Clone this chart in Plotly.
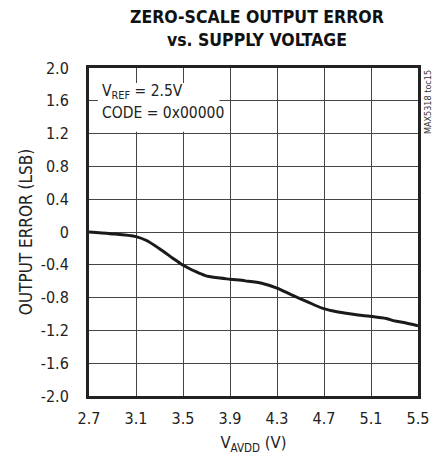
"""Zero-scale output error vs. supply voltage (MAX5318 toc15)"""

import plotly.graph_objects as go

# supply voltage (V) and zero-scale output error (LSB)
supply_v = [2.70, 2.88, 3.10, 3.19, 3.30, 3.41, 3.49, 3.61, 3.69, 3.78, 3.90,
            4.03, 4.17, 4.30, 4.42, 4.56, 4.69, 4.82, 4.99, 5.09, 5.23, 5.30,
            5.38, 5.50]
error_lsb = [0.00, -0.02, -0.056, -0.104, -0.204, -0.316, -0.396, -0.484,
             -0.532, -0.556, -0.576, -0.596, -0.624, -0.684, -0.764, -0.852,
             -0.932, -0.976, -1.012, -1.028, -1.056, -1.084, -1.104, -1.144]

x_ticks = [2.7, 3.1, 3.5, 3.9, 4.3, 4.7, 5.1, 5.5]
x_tick_text = ["2.7", "3.1", "3.5", "3.9", "4.3", "4.7", "5.1", "5.5"]
y_ticks = [2.0, 1.6, 1.2, 0.8, 0.4, 0, -0.4, -0.8, -1.2, -1.6, -2.0]
y_tick_text = ["2.0", "1.6", "1.2", "0.8", "0.4", "0", "-0.4", "-0.8",
               "-1.2", "-1.6", "-2.0"]

FONT = "DejaVu Sans Condensed, Liberation Sans Narrow, Liberation Sans, sans-serif"

# the page body keeps its default 8px margin, so the figure is 8px smaller
W, H = 433, 454

fig = go.Figure()
fig.add_trace(
    go.Scatter(
        x=supply_v,
        y=error_lsb,
        mode="lines",
        line={"color": "#1a1a1a", "width": 3, "shape": "spline", "smoothing": 0.8},
        showlegend=False,
        hoverinfo="skip",
    )
)

# white box behind the conditions text
fig.add_shape(
    type="rect",
    xref="x",
    yref="y",
    x0=2.776,
    x1=3.81,
    y0=1.224,
    y1=1.818,
    fillcolor="white",
    line={"width": 0},
    layer="between",
)

fig.add_annotation(
    x=2.79,
    y=1.71,
    xref="x",
    yref="y",
    xanchor="left",
    yanchor="middle",
    showarrow=False,
    text="V<sub>REF</sub> = 2.5V",
    font={"family": FONT, "size": 15.5, "color": "#222"},
)
fig.add_annotation(
    x=2.79,
    y=1.45,
    xref="x",
    yref="y",
    xanchor="left",
    yanchor="middle",
    showarrow=False,
    text="CODE = 0x00000",
    font={"family": FONT, "size": 15.5, "color": "#222"},
)

# part / figure id on the right edge
fig.add_annotation(
    x=1.0,
    y=1.0,
    xref="paper",
    yref="paper",
    xanchor="left",
    yanchor="top",
    xshift=3,
    showarrow=False,
    textangle=-90,
    text="MAX5318 toc15",
    font={"family": FONT, "size": 9, "color": "#333"},
)

fig.update_layout(
    width=W,
    height=H,
    margin={"l": 81, "r": 14, "t": 60, "b": 56},
    paper_bgcolor="white",
    plot_bgcolor="white",
    font={"family": FONT, "size": 16, "color": "#222"},
    title={
        "text": "<b>ZERO-SCALE OUTPUT ERROR<br>vs. SUPPLY VOLTAGE</b>",
        "x": 0.575,
        "xanchor": "center",
        "y": 1 - 15 / H,
        "yanchor": "middle",
        "font": {"family": FONT, "size": 17.5, "color": "#111"},
    },
)

fig.update_xaxes(
    range=[2.7, 5.5],
    tickvals=x_ticks,
    ticktext=x_tick_text,
    showgrid=True,
    gridcolor="#444",
    gridwidth=1,
    showline=True,
    linecolor="#222",
    linewidth=3,
    mirror=True,
    zeroline=False,
    ticks="",
    ticklabelstandoff=6,
    title={"text": "V<sub>AVDD</sub> (V)", "standoff": 10,
           "font": {"family": FONT, "size": 16.5}},
)
fig.update_yaxes(
    range=[-2.0, 2.0],
    tickvals=y_ticks,
    ticktext=y_tick_text,
    showgrid=True,
    gridcolor="#444",
    gridwidth=1,
    showline=True,
    linecolor="#222",
    linewidth=3,
    mirror=True,
    zeroline=False,
    ticks="",
    ticklabelstandoff=14,
    title={"text": "OUTPUT ERROR (LSB)", "standoff": 4,
           "font": {"family": FONT, "size": 17}},
)

fig.write_html("out.html")
